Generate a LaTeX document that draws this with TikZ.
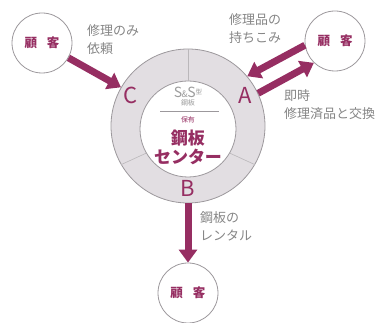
\documentclass[tikz,border=0pt]{standalone}
\usepackage{fontspec}
\setmainfont{Noto Sans CJK JP}
\usetikzlibrary{arrows.meta}
\definecolor{maroon}{HTML}{962E62}
\definecolor{ringfill}{HTML}{E2DEE2}
\definecolor{ringline}{HTML}{9C989C}
\definecolor{labelgray}{HTML}{858585}
\tikzset{
  customer/.style={circle, minimum size=60pt, inner sep=0pt, draw=ringline, line width=0.8pt, fill=white,
    text=maroon, font=\fontsize{12.5}{14}\selectfont\bfseries},
  arr/.style={draw=maroon, line width=7pt, -{Triangle[width=18pt,length=13pt]}},
  lbl/.style={text=labelgray, align=left, inner sep=0pt, anchor=north west, font=\fontsize{13}{18}\selectfont},
  letter/.style={text=maroon, font=\fontsize{22}{22}\selectfont},
  divider/.style={draw=ringline!70, line width=0.6pt}
}
\begin{document}
\begin{tikzpicture}[x=1pt,y=-1pt]
\useasboundingbox (0,0) rectangle (384,323);
% ring
\node[circle, minimum size=154pt, inner sep=0pt, fill=ringfill, draw=ringline, line width=0.8pt] (ring) at (188,126) {};
\node[circle, minimum size=96pt, inner sep=0pt, fill=white, draw=ringline, line width=0.8pt] (hub) at (188,129) {};
\draw[divider] (hub.90) -- (ring.90);
\draw[divider] (hub.210) -- (ring.210);
\draw[divider] (hub.330) -- (ring.330);
% letters
\node[letter] (A) at (245,95) {A};
\node[letter] (B) at (188,188) {B};
\node[letter] (C) at (131,95) {C};
% hub text
\node[text=labelgray!80, inner sep=0pt] (ss) at (188,92) {\fontsize{14}{14}\selectfont S\kern-0.5pt{\fontsize{9}{9}\selectfont\&}\kern-0.5pt S\raisebox{3pt}{\fontsize{6.5}{7}\selectfont 型}};
\node[text=labelgray!80, inner sep=0pt, font=\fontsize{7}{8}\selectfont] (ssb) at (188,103) {鋼板};
\coordinate (hl) at (160,111);
\coordinate (hr) at (219,111);
\draw[draw=ringline, line width=0.6pt] (hl) -- (hr);
\node[text=maroon, inner sep=0pt, font=\fontsize{7}{8}\selectfont] (hoyu) at (188,120) {保有};
\node[text=maroon, inner sep=0pt, font=\fontsize{17}{19}\selectfont\bfseries] (kohan) at (188,138) {鋼板};
\node[text=maroon, inner sep=0pt, font=\fontsize{17}{19}\selectfont\bfseries] (center) at (188,157) {センター};
% customers
\node[customer] (cL) at (42,43) {顧\hspace{0.8em}客};
\node[customer] (cR) at (335,41) {顧\hspace{0.8em}客};
\node[customer] (cB) at (188,293) {顧\hspace{0.8em}客};
% arrows
\draw[arr] (cL) -- (ring.150);
\draw[arr] (cR.188) -- (ring.40);
\draw[arr] (ring.25) -- (cR.226);
\draw[arr] (ring.south) -- (cB.north);
% labels
\node[lbl] (l1) at (87,24) {修理のみ\\依頼};
\node[lbl] (l2) at (229,13) {修理品の\\持ちこみ};
\node[lbl] (l3) at (284,89) {即時\\修理済品と交換};
\node[lbl] (l4) at (200,211) {鋼板の\\レンタル};
\end{tikzpicture}
\end{document}
